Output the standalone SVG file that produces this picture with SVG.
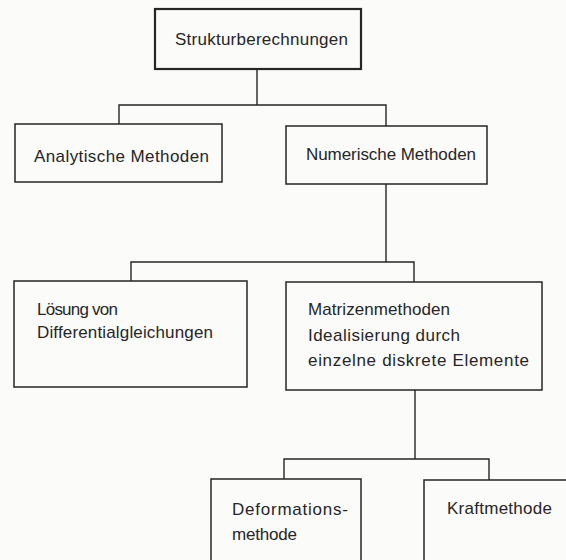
<svg xmlns="http://www.w3.org/2000/svg" width="566" height="560" viewBox="0 0 566 560">
<style>
.box{fill:none;stroke:#262626;stroke-width:1.5}
.top{stroke-width:2.2}
.con{fill:none;stroke:#262626;stroke-width:1.4}
text{font-family:"Liberation Sans",Arial,sans-serif;font-size:17px;fill:#262626}
</style>
<rect width="566" height="560" fill="#fbfbfa"/>
<g id="connectors">
<path class="con" d="M257 69V105M119 124V105H386V126"/>
<path class="con" d="M386 184V262M131 281V262H414V282"/>
<path class="con" d="M415 390V459M284 479V459H489V480"/>
</g>
<g id="n-struktur">
<rect class="box top" x="155" y="9" width="206" height="60"/>
<text x="175" y="45" textLength="173" lengthAdjust="spacing">Strukturberechnungen</text>
</g>
<g id="n-analytisch">
<rect class="box" x="15" y="124" width="207" height="58"/>
<text x="34" y="162" textLength="175" lengthAdjust="spacing">Analytische Methoden</text>
</g>
<g id="n-numerisch">
<rect class="box" x="286" y="126" width="201" height="58"/>
<text x="306" y="160" textLength="170" lengthAdjust="spacing">Numerische Methoden</text>
</g>
<g id="n-loesung">
<rect class="box" x="14" y="281" width="233" height="106"/>
<text x="37" y="315" textLength="81" lengthAdjust="spacing">Lösung von</text>
<text x="37" y="338" textLength="176" lengthAdjust="spacing">Differentialgleichungen</text>
</g>
<g id="n-matrizen">
<rect class="box" x="286" y="282" width="256" height="108"/>
<text x="308" y="315" textLength="142" lengthAdjust="spacing">Matrizenmethoden</text>
<text x="308" y="341" textLength="152" lengthAdjust="spacing">Idealisierung durch</text>
<text x="308" y="366" textLength="221" lengthAdjust="spacing">einzelne diskrete Elemente</text>
</g>
<g id="n-deformation">
<rect class="box" x="211" y="479" width="150" height="100"/>
<text x="232" y="515" textLength="116" lengthAdjust="spacing">Deformations-</text>
<text x="232" y="540" textLength="65" lengthAdjust="spacing">methode</text>
</g>
<g id="n-kraft">
<rect class="box" x="424" y="480" width="160" height="100"/>
<text x="447" y="514" textLength="105" lengthAdjust="spacing">Kraftmethode</text>
</g>
</svg>
